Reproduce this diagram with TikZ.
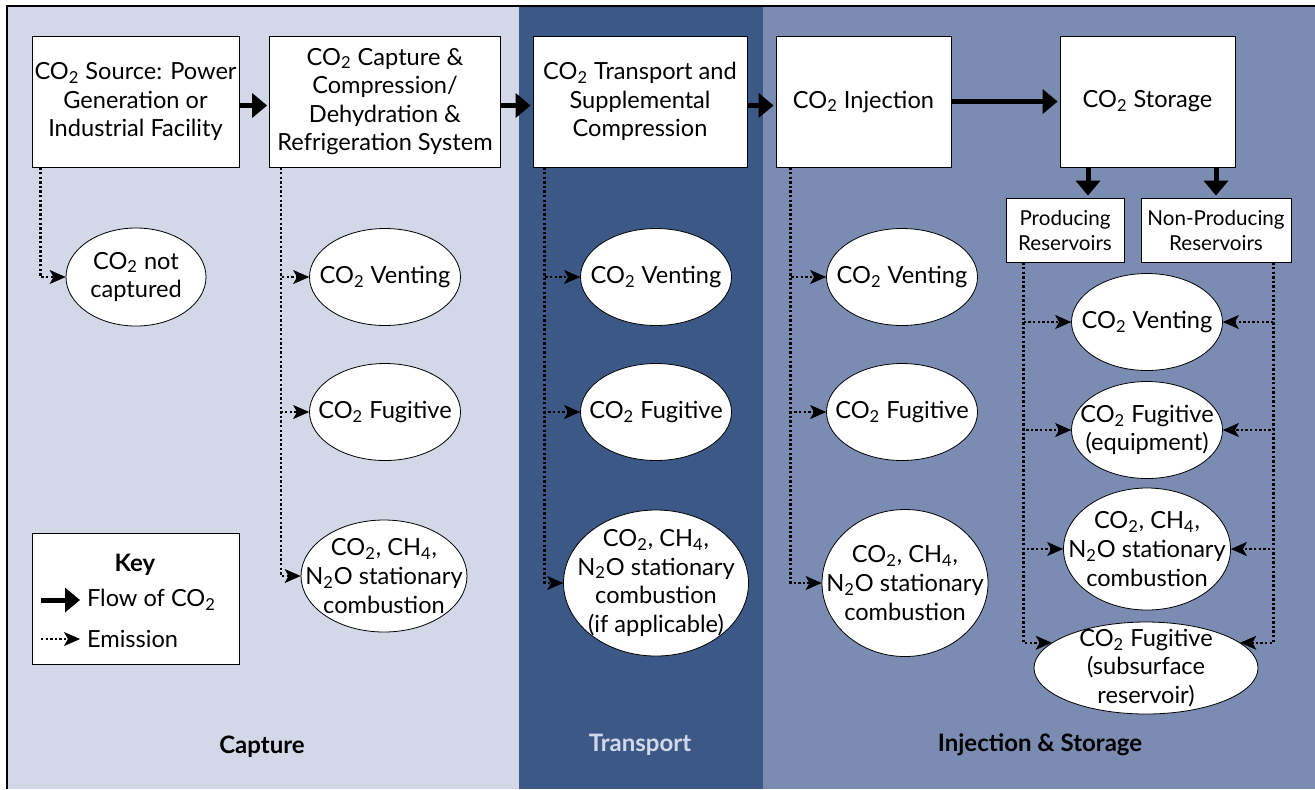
\documentclass[tikz,border=0pt]{standalone}
\usepackage{fontspec}
\setmainfont{Lato}
\usetikzlibrary{arrows.meta,shapes.geometric}
\definecolor{capbg}{HTML}{D3D8E8}
\definecolor{transbg}{HTML}{3B5886}
\definecolor{injbg}{HTML}{7B8CB3}
\newcommand{\cotwo}{CO\textsubscript{2}}

\begin{document}
\begin{tikzpicture}[x=0.5pt, y=-0.5pt,
    every node/.style={font=\fontsize{11.8}{14.3}\selectfont, align=center},
    stage/.style={rectangle, draw, fill=white, minimum height=65.5pt, inner xsep=1pt, inner ysep=2pt},
    resbox/.style={rectangle, draw, fill=white, minimum height=32pt, inner sep=1pt, font=\fontsize{10.3}{12.5}\selectfont},
    emit/.style={ellipse, draw, fill=white, inner sep=-12pt},
    emitsm/.style={emit, minimum width=75.5pt, minimum height=48.5pt},
    flowarrow/.style={line width=2.5pt, -{Triangle[length=7.5pt, width=12pt]}, shorten >=1pt},
    emitarrow/.style={line width=1.2pt, dash pattern=on 1.2pt off 1.1pt, -{Stealth[length=8pt, width=7pt, inset=2pt, line width=0.3pt, fill=black]}},
    panel/.style={font=\bfseries\fontsize{12}{14.3}\selectfont}]
    \useasboundingbox (0,0) rectangle (1315,789);

    % background panels
    \fill[capbg] (7,6) rectangle (519,789);
    \fill[transbg] (519,6) rectangle (763,789);
    \fill[injbg] (763,6) rectangle (1315,789);
    \draw[line width=1pt] (7,789) -- (7,6) -- (1315,6);

    % main chain
    \node[stage, minimum width=103.5pt] (src) at (135.5,101.5) {\cotwo{} Source: Power\\Generation or\\Industrial Facility};
    \node[stage, minimum width=115.5pt] (cap) at (385,101.5) {\cotwo{} Capture \&\\Compression/\\Dehydration \&\\Refrigeration System};
    \node[stage, minimum width=107pt] (trans) at (640,101.5) {\cotwo{} Transport and\\Supplemental\\Compression};
    \node[stage, minimum width=87.5pt] (inj) at (863.5,101.5) {\cotwo{} Injection};
    \node[stage, minimum width=87.5pt] (stor) at (1147.5,101.5) {\cotwo{} Storage};
    \node[resbox, minimum width=59pt] (prod) at (1065,230) {Producing\\Reservoirs};
    \node[resbox, minimum width=75pt] (nonprod) at (1216,230) {Non-Producing\\Reservoirs};

    \draw[flowarrow] ([yshift=-2pt]src.east) -- ([yshift=-2pt]cap.west);
    \draw[flowarrow] ([yshift=-2pt]cap.east) -- ([yshift=-2pt]trans.west);
    \draw[flowarrow] ([yshift=-2pt]trans.east) -- ([yshift=-2pt]inj.west);
    \draw[flowarrow] (inj.east) -- (stor.west);
    \coordinate (pin) at ([xshift=11.5pt]prod.north);
    \draw[flowarrow] (stor.south -| pin) -- (pin);
    \draw[flowarrow] (stor.south -| nonprod) -- (nonprod.north);

    % emissions
    \node[emit, minimum width=70pt, minimum height=49pt] (notcap) at (136,277) {\cotwo{} not\\captured};

    \node[emitsm] (cvent) at (385,277) {\cotwo{} Venting};
    \node[emitsm] (cfug) at (385,412) {\cotwo{} Fugitive};
    \node[emit, minimum width=83pt, minimum height=56pt] (ccomb) at (384,576) {\cotwo, CH\textsubscript{4},\\N\textsubscript{2}O stationary\\combustion};

    \node[emitsm] (tvent) at (656,277) {\cotwo{} Venting};
    \node[emitsm] (tfug) at (656,412) {\cotwo{} Fugitive};
    \node[emit, minimum width=92.5pt, minimum height=73pt] (tcomb) at (656,583) {\cotwo, CH\textsubscript{4},\\N\textsubscript{2}O stationary\\combustion\\(if applicable)};

    \node[emitsm] (ivent) at (902,277) {\cotwo{} Venting};
    \node[emitsm] (ifug) at (902,412) {\cotwo{} Fugitive};
    \node[emit, minimum width=83pt, minimum height=73.5pt] (icomb) at (905,583) {\cotwo, CH\textsubscript{4},\\N\textsubscript{2}O stationary\\combustion};

    \node[emitsm] (svent) at (1147,322) {\cotwo{} Venting};
    \node[emitsm] (sfug) at (1147,430) {\cotwo{} Fugitive\\(equipment)};
    \node[emit, minimum width=83.5pt, minimum height=61pt] (scomb) at (1147,549) {\cotwo, CH\textsubscript{4},\\N\textsubscript{2}O stationary\\combustion};
    \node[emit, minimum width=112pt, minimum height=46pt] (ssub) at (1146,668) {\cotwo{} Fugitive\\(subsurface\\reservoir)};

    \draw[emitarrow] ([xshift=4.5pt]src.south west) |- (notcap);
    \foreach \e in {cvent, cfug, ccomb}
        \draw[emitarrow] ([xshift=6pt]cap.south west) |- (\e);
    \foreach \e in {tvent, tfug, tcomb}
        \draw[emitarrow] ([xshift=6pt]trans.south west) |- (\e);
    \foreach \e in {ivent, ifug, icomb}
        \draw[emitarrow] ([xshift=7.5pt]inj.south west) |- (\e);
    \foreach \e in {svent, sfug, scomb, ssub.165}
        \draw[emitarrow] ([xshift=9pt]prod.south west) |- (\e);
    \foreach \e in {svent, sfug, scomb, ssub.15}
        \draw[emitarrow] ([xshift=-9pt]nonprod.south east) |- (\e);

    % key
    \node[rectangle, draw, fill=white, minimum width=103.5pt, minimum height=65.5pt] (key) at (135.5,598.5) {};
    \node[panel] (keyt) at (135,565) {Key};
    \coordinate (kf) at (41,600);
    \node[anchor=west] (kflow) at (80,600) {Flow of \cotwo};
    \draw[flowarrow, shorten >=0pt] (kf) -- (kflow.west);
    \coordinate (ke) at (41,639);
    \node[anchor=west] (kemit) at (80,639) {Emission};
    \draw[emitarrow] (ke) -- (kemit.west);

    % stage labels
    \node[panel] (lcap) at (262,747) {Capture};
    \node[panel, text=capbg] (ltrans) at (640,745) {Transport};
    \node[panel] (linj) at (1040,745) {Injection \& Storage};
\end{tikzpicture}
\end{document}
